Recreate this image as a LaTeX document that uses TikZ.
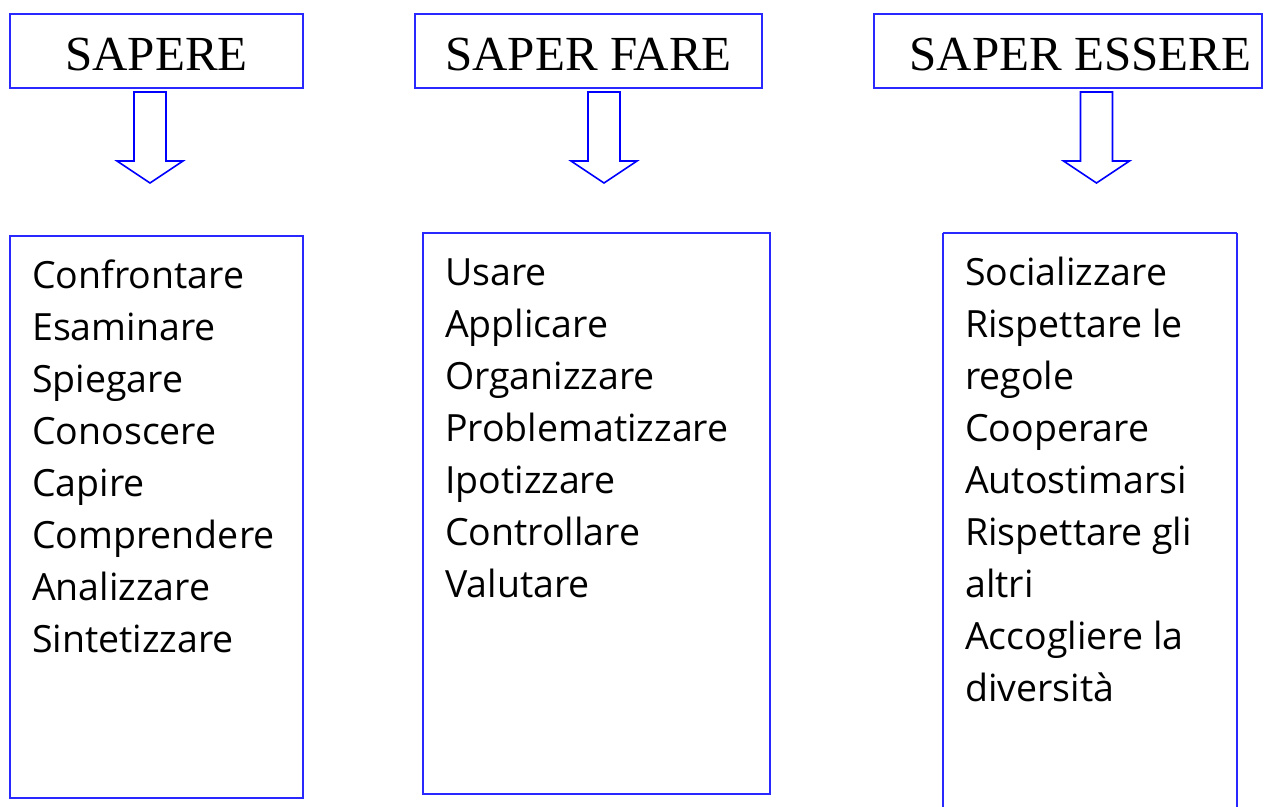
\documentclass[tikz,border=0pt]{standalone}
\usepackage{fontspec}
\setmainfont{Liberation Serif}
\newfontfamily\listfont{Open Sans}
\begin{document}
\begin{tikzpicture}[x=1pt,y=-1pt,
  boxline/.style={draw={rgb,255:red,40;green,40;blue,255},line width=1.1pt},
  arrowline/.style={draw=blue,fill=white,line width=1.6pt,line join=miter},
  head/.style={font=\fontsize{49}{52}\selectfont,inner sep=0pt},
  item/.style={font=\listfont\fontsize{37.5}{40}\selectfont,anchor=base west,inner sep=0pt},
  bigarrow/.pic={\draw[arrowline] (-16,0) -- (-16,69) -- (-33,69) -- (0,91) -- (33,69) -- (16,69) -- (16,0) -- cycle;}
]
\useasboundingbox (0,0) rectangle (1277,806);
% header boxes
\draw[boxline] (10,14) rectangle (303,88);
\draw[boxline] (415,14) rectangle (762,88);
\draw[boxline] (874,14) rectangle (1262,88);
\node[head,anchor=base] (h1) at (156.5,70) {SAPERE};
\node[head,anchor=base] (h2) at (588.5,70) {SAPER FARE};
\node[head,anchor=base] (h3) at (1080.5,70) {SAPER ESSERE};
% arrows
\pic at (150,92) {bigarrow};
\pic at (604,92) {bigarrow};
\pic at (1096.5,92) {bigarrow};
% list boxes
\draw[boxline] (10,236) rectangle (303,798);
\draw[boxline] (423,233) rectangle (770,794);
\draw[boxline] (943,233) -- (943,810) (1237,233) -- (1237,810) (943,233) -- (1237,233);
% lists
\foreach \t [count=\i] in {Confrontare,Esaminare,Spiegare,Conoscere,Capire,Comprendere,Analizzare,Sintetizzare}
  \node[item] (a\i) at (32,{288+52*(\i-1)}) {\t};
\foreach \t [count=\i] in {Usare,Applicare,Organizzare,Problematizzare,Ipotizzare,Controllare,Valutare}
  \node[item] (b\i) at (445,{285+52*(\i-1)}) {\t};
\foreach \t [count=\i] in {Socializzare,Rispettare le,regole,Cooperare,Autostimarsi,Rispettare gli,altri,Accogliere la,diversità}
  \node[item] (c\i) at (965,{285+52*(\i-1)}) {\t};
\end{tikzpicture}
\end{document}
